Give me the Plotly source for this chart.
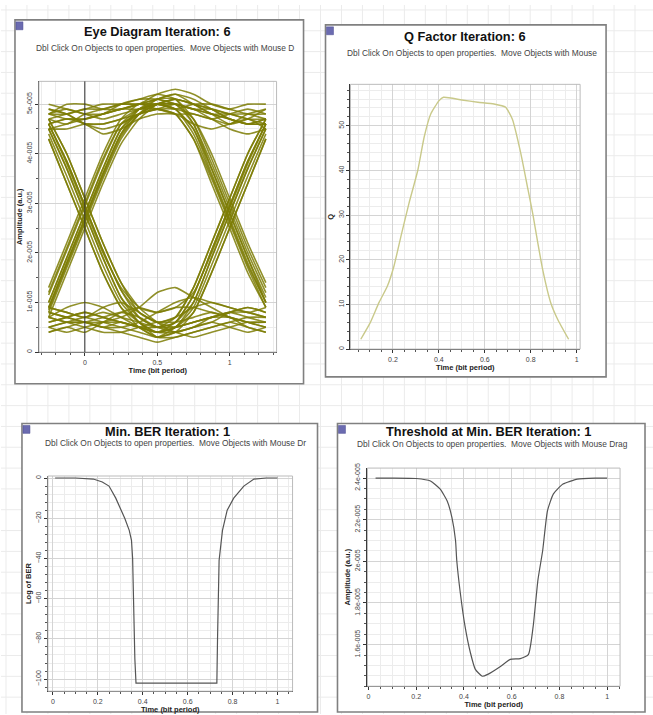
import plotly.graph_objects as go

W, H = 653, 715

# ---------------- data ----------------
# Eye diagram (amplitude in units of 1e-5 a.u.)
eye_x = [-0.25, -0.125, 0, 0.125, 0.25, 0.375, 0.5, 0.625, 0.75, 0.875, 1.0, 1.125, 1.25]
eye_traces = [
    [4.7, 4.8, 4.9, 4.9, 5.0, 5.0, 5.1, 5.0, 4.9, 4.8, 4.8, 4.7, 4.7],
    [4.5, 4.6, 4.7, 4.8, 4.9, 5.0, 5.1, 5.2, 5.1, 4.9, 4.7, 4.6, 4.6],
    [4.9, 4.8, 4.6, 4.5, 4.6, 4.8, 4.9, 4.9, 4.8, 4.7, 4.6, 4.8, 4.9],
    [5.0, 4.9, 4.8, 4.7, 4.8, 4.9, 5.0, 4.9, 5.0, 5.0, 4.9, 4.8, 4.8],
    [4.6, 4.7, 4.6, 4.4, 4.5, 4.7, 4.8, 4.8, 4.6, 4.5, 4.6, 4.7, 4.5],
    [4.8, 5.0, 5.0, 4.9, 4.9, 5.0, 5.2, 5.3, 5.2, 5.0, 4.9, 5.0, 5.0],
    [4.8, 4.7, 4.7, 4.8, 4.9, 4.9, 5.0, 5.1, 5.0, 4.8, 4.7, 4.6, 4.7],
    [4.5, 4.5, 4.6, 4.6, 4.7, 4.8, 4.9, 5.0, 4.9, 4.7, 4.5, 4.4, 4.5],
    [4.8, 4.9, 4.8, 4.8, 4.9, 5.0, 5.0, 4.9, 4.5, 3.7, 2.8, 1.9, 1.1],
    [4.6, 4.7, 4.7, 4.8, 5.0, 5.1, 5.1, 5.0, 4.7, 4.0, 3.1, 2.2, 1.4],
    [4.9, 4.8, 4.6, 4.6, 4.7, 4.9, 4.9, 4.8, 4.3, 3.4, 2.5, 1.6, 0.9],
    [4.7, 4.6, 4.8, 4.9, 5.0, 5.1, 5.2, 5.1, 4.6, 3.8, 2.9, 2.0, 1.2],
    [4.8, 4.8, 4.9, 5.0, 5.0, 5.0, 5.0, 4.9, 4.4, 3.55, 2.65, 1.75, 1.0],
    [1.0, 1.9, 2.8, 3.7, 4.5, 4.8, 5.0, 5.1, 5.0, 4.9, 4.8, 4.8, 4.7],
    [0.7, 1.6, 2.5, 3.4, 4.2, 4.7, 5.0, 5.1, 5.0, 4.9, 4.7, 4.6, 4.7],
    [1.3, 2.2, 3.1, 4.0, 4.7, 5.0, 4.9, 4.8, 4.8, 4.7, 4.8, 4.9, 4.8],
    [0.9, 1.8, 2.7, 3.6, 4.4, 4.9, 5.1, 5.2, 5.0, 4.8, 4.6, 4.7, 4.9],
    [1.15, 2.05, 2.95, 3.85, 4.6, 4.9, 5.0, 5.0, 4.9, 4.8, 4.7, 4.6, 4.6],
    [0.85, 1.75, 2.65, 3.55, 4.35, 4.8, 5.0, 5.0, 4.9, 4.9, 4.8, 4.7, 4.6],
    [1.0, 1.9, 2.8, 3.7, 4.5, 4.9, 5.0, 5.0, 4.6, 3.7, 2.8, 1.9, 1.0],
    [1.2, 2.1, 3.0, 3.9, 4.6, 4.8, 4.9, 4.8, 4.3, 3.5, 2.6, 1.7, 0.9],
    [0.8, 1.7, 2.6, 3.5, 4.3, 4.8, 5.1, 5.1, 4.7, 3.9, 3.0, 2.1, 1.3],
    [0.9, 1.8, 2.7, 3.6, 4.4, 4.8, 5.0, 4.9, 4.5, 3.6, 2.7, 1.8, 1.0],
    [4.5, 3.7, 2.8, 1.9, 1.1, 0.6, 0.4, 0.5, 1.0, 1.9, 2.8, 3.7, 4.5],
    [4.7, 4.0, 3.1, 2.2, 1.4, 0.8, 0.6, 0.7, 1.3, 2.2, 3.1, 4.0, 4.7],
    [4.3, 3.4, 2.5, 1.6, 0.9, 0.5, 0.3, 0.4, 0.8, 1.6, 2.5, 3.4, 4.3],
    [4.6, 3.85, 2.95, 2.05, 1.25, 0.7, 0.5, 0.6, 1.15, 2.05, 2.95, 3.85, 4.6],
    [4.5, 3.7, 2.8, 1.9, 1.1, 0.7, 0.5, 0.5, 0.6, 0.7, 0.7, 0.6, 0.6],
    [4.7, 4.0, 3.1, 2.2, 1.4, 0.9, 0.6, 0.4, 0.5, 0.6, 0.8, 0.9, 0.8],
    [4.3, 3.4, 2.5, 1.6, 0.9, 0.6, 0.3, 0.3, 0.4, 0.5, 0.6, 0.7, 0.7],
    [4.6, 3.8, 2.9, 2.0, 1.3, 0.9, 0.8, 0.9, 0.9, 0.8, 0.7, 0.5, 0.4],
    [4.6, 3.85, 2.95, 2.05, 1.25, 0.8, 0.6, 0.5, 0.6, 0.7, 0.8, 0.8, 0.7],
    [4.4, 3.55, 2.65, 1.75, 1.0, 0.6, 0.4, 0.4, 0.5, 0.6, 0.5, 0.4, 0.5],
    [0.7, 0.6, 0.6, 0.5, 0.6, 0.5, 0.4, 0.6, 1.0, 1.9, 2.8, 3.7, 4.5],
    [0.9, 0.8, 0.7, 0.8, 0.7, 0.6, 0.5, 0.7, 1.3, 2.2, 3.1, 4.0, 4.7],
    [0.5, 0.6, 0.7, 0.6, 0.5, 0.4, 0.3, 0.5, 0.8, 1.6, 2.5, 3.4, 4.3],
    [0.4, 0.5, 0.4, 0.6, 0.8, 0.9, 0.8, 0.9, 1.2, 2.0, 2.9, 3.8, 4.6],
    [0.6, 0.7, 0.8, 0.7, 0.6, 0.5, 0.5, 0.6, 1.15, 2.05, 2.95, 3.85, 4.6],
    [0.8, 0.7, 0.6, 0.6, 0.6, 0.5, 0.4, 0.5, 0.9, 1.75, 2.65, 3.55, 4.4],
    [0.6, 0.7, 0.8, 0.7, 0.6, 0.5, 0.4, 0.5, 0.6, 0.7, 0.8, 0.7, 0.6],
    [0.9, 0.8, 0.7, 0.9, 1.0, 0.8, 0.6, 0.7, 0.9, 1.0, 0.9, 0.8, 0.9],
    [0.4, 0.5, 0.6, 0.5, 0.4, 0.3, 0.2, 0.3, 0.4, 0.5, 0.6, 0.5, 0.4],
    [0.7, 0.9, 1.0, 0.9, 0.7, 0.5, 0.3, 0.4, 0.5, 0.7, 0.8, 0.9, 0.8],
    [0.5, 0.4, 0.5, 0.6, 0.7, 0.9, 1.2, 1.3, 1.1, 0.9, 0.7, 0.6, 0.5],
    [0.8, 0.7, 0.6, 0.5, 0.5, 0.6, 0.8, 1.0, 1.1, 1.0, 0.9, 0.8, 0.7],
    [0.5, 0.6, 0.6, 0.7, 0.8, 0.7, 0.5, 0.4, 0.3, 0.4, 0.5, 0.6, 0.6],
    [0.7, 0.6, 0.5, 0.4, 0.4, 0.5, 0.6, 0.6, 0.7, 0.8, 0.7, 0.6, 0.5],
]
eye_unit = 1e-5
eye_marker_x = [0]
eye_ytick_vals = [0, 1, 2, 3, 4, 5]
eye_ytick_text = ["0", "1e-005", "2e-005", "3e-005", "4e-005", "5e-005"]

# Q factor
q_x = [0.06, 0.10, 0.139, 0.175, 0.204, 0.235, 0.27, 0.308, 0.336, 0.365, 0.40, 0.42,
       0.50, 0.57, 0.64, 0.69, 0.72, 0.757, 0.787, 0.81, 0.83, 0.852, 0.887, 0.917, 0.965]
q_y = [2.2, 5.8, 10.4, 14.0, 18.5, 25.3, 32.7, 40.0, 47.5, 52.7, 55.6, 56.4,
       55.8, 55.3, 54.9, 54.2, 51.5, 43.8, 36.0, 30.0, 24.0, 17.8, 10.4, 6.7, 2.2]

# Min BER (log10)
ber_x = [0.01, 0.1, 0.18, 0.22, 0.25, 0.28, 0.30, 0.32, 0.34, 0.35, 0.355, 0.36, 0.365, 0.37,
         0.5, 0.6, 0.73, 0.733, 0.736, 0.74, 0.755, 0.776, 0.805, 0.85, 0.895, 0.95, 1.0]
ber_y = [0, 0, -0.5, -2, -4, -10, -15, -20, -26, -31, -40, -70, -90, -102,
         -102, -102, -102, -80, -64, -41, -26, -16, -10, -4, -0.5, 0, 0]

# Threshold at min BER (units of 1e-5 a.u.)
thr_x = [0.03, 0.1, 0.2, 0.26, 0.30, 0.33, 0.35, 0.365, 0.37, 0.385, 0.405, 0.427, 0.448, 0.477,
         0.50, 0.553, 0.594, 0.636, 0.67, 0.69, 0.71, 0.73, 0.75, 0.775, 0.815, 0.875, 0.95, 1.0]
thr_y = [2.4, 2.4, 2.398, 2.386, 2.348, 2.29, 2.21, 2.10, 2.005, 1.848, 1.686, 1.562, 1.481, 1.448,
         1.457, 1.495, 1.529, 1.533, 1.552, 1.686, 1.91, 2.052, 2.243, 2.324, 2.371, 2.395, 2.4, 2.4]
thr_unit = 1e-5
thr_ytick_vals = [1.6, 1.8, 2.0, 2.2, 2.4]
thr_ytick_text = ["1.6e-005", "1.8e-005", "2e-005", "2.2e-005", "2.4e-005"]

titles = ["Eye Diagram Iteration: 6", "Q Factor Iteration: 6",
          "Min. BER Iteration: 1", "Threshold at Min. BER Iteration: 1"]
subtitle = "Dbl Click On Objects to open properties.  Move Objects with Mouse Drag"

# ---------------- helpers ----------------
FONT = "Liberation Sans, Arial, sans-serif"


def px_x(p):
    return p / W


def px_y(p):
    return 1 - p / H


fig = go.Figure()

OLIVE = "rgba(125,125,5,0.85)"
for tr in eye_traces:
    fig.add_trace(go.Scatter(x=eye_x, y=[v * eye_unit for v in tr], mode="lines",
                             line=dict(color=OLIVE, width=1.6, shape="spline", smoothing=0.55),
                             xaxis="x", yaxis="y", hoverinfo="skip"))

fig.add_trace(go.Scatter(x=q_x, y=q_y, mode="lines",
                         line=dict(color="#c9c98a", width=1.4, shape="spline", smoothing=0.5),
                         xaxis="x2", yaxis="y2"))
fig.add_trace(go.Scatter(x=ber_x, y=ber_y, mode="lines",
                         line=dict(color="#555555", width=1.2),
                         xaxis="x3", yaxis="y3"))
fig.add_trace(go.Scatter(x=thr_x, y=[v * thr_unit for v in thr_y], mode="lines",
                         line=dict(color="#555555", width=1.2, shape="spline", smoothing=0.5),
                         xaxis="x4", yaxis="y4"))


def axis(domain, rng, dtick=None, minor_dtick=None, anchor=None, is_y=False, **kw):
    d = dict(domain=domain, range=rng, anchor=anchor, showline=True, linecolor="#333333",
             linewidth=1.3, ticks="outside", ticklen=3, tickcolor="#333333",
             showgrid=True, gridcolor="#d4d4d4", gridwidth=1, zeroline=False,
             tickfont=dict(family=FONT, size=7, color="#444444"),
             minor=dict(ticks="outside", ticklen=2, tickcolor="#555555",
                        showgrid=True, gridcolor="#ececec", gridwidth=1))
    if dtick is not None:
        d["dtick"] = dtick
    if minor_dtick is not None:
        d["minor"]["dtick"] = minor_dtick
    if is_y:
        d["tickangle"] = -90
    d.update(kw)
    return d


def xtitle(text):
    return dict(text=text, font=dict(family=FONT, size=7.5, color="#222222", weight="bold"), standoff=2)


# Plot area pixel boxes: (left, right, top, bottom)
boxes = [(38, 276, 77, 350), (350, 580, 80, 347), (47, 292, 475, 692), (367, 620, 467, 687)]
dom = [([px_x(l), px_x(r)], [px_y(b), px_y(t)]) for l, r, t, b in boxes]

fig.update_layout(
    xaxis=axis(dom[0][0], [-0.317, 1.324], 0.5, 0.1, "y", tickvals=[0, 0.5, 1], ticktext=["0", "0.5", "1"],
               title=xtitle("Time (bit period)")),
    yaxis=axis(dom[0][1], [0, 5.46e-5], None, 0.5e-5, "x", True,
               tickvals=[v * eye_unit for v in eye_ytick_vals], ticktext=eye_ytick_text,
               title=xtitle("Amplitude (a.u.)")),
    xaxis2=axis(dom[1][0], [0.015, 1.015], 0.2, 0.05, "y2", title=xtitle("Time (bit period)")),
    yaxis2=axis(dom[1][1], [0, 59.3], 10, 2, "x2", True, title=xtitle("Q")),
    xaxis3=axis(dom[2][0], [-0.022, 1.067], 0.2, 0.05, "y3", title=xtitle("Time (bit period)")),
    yaxis3=axis(dom[2][1], [-106, 1], 20, 4, "x3", True, title=xtitle("Log of BER")),
    xaxis4=axis(dom[3][0], [-0.004, 1.054], 0.2, 0.05, "y4", title=xtitle("Time (bit period)")),
    yaxis4=axis(dom[3][1], [1.4e-5, 2.448e-5], None, 0.05e-5, "x4", True,
                tickvals=[v * thr_unit for v in thr_ytick_vals], ticktext=thr_ytick_text,
                title=xtitle("Amplitude (a.u.)")),
    width=W, height=H, autosize=False,
    margin=dict(l=0, r=0, t=0, b=0),
    paper_bgcolor="white", plot_bgcolor="white",
    showlegend=False,
)

shapes = []
# faint canvas grid behind the panels
for gx in range(5, W, 21):
    shapes.append(dict(type="line", xref="paper", yref="paper", x0=px_x(gx), x1=px_x(gx), y0=0, y1=1,
                       line=dict(color="#ebebeb", width=1), layer="below"))
for gy in range(5, H, 21):
    shapes.append(dict(type="line", xref="paper", yref="paper", x0=0, x1=1, y0=px_y(gy), y1=px_y(gy),
                       line=dict(color="#ebebeb", width=1), layer="below"))

# panel frames: (left, right, top, bottom)
panels = [(14, 303, 15, 382), (325, 606, 20, 375), (21, 317, 422, 713), (337, 645, 422, 713)]
for l, r, t, b in panels:
    shapes.append(dict(type="rect", xref="paper", yref="paper", x0=px_x(l), x1=px_x(r),
                       y0=px_y(b), y1=px_y(t), fillcolor="white",
                       line=dict(color="#808080", width=1.6), layer="below"))
    shapes.append(dict(type="rect", xref="paper", yref="paper", x0=px_x(l + 1), x1=px_x(l + 8),
                       y0=px_y(t + 10), y1=px_y(t + 2), fillcolor="#6b6bb0",
                       line=dict(color="#4a4a90", width=0.5)))

# plot-area frames
for ax in ["", "2", "3", "4"]:
    shapes.append(dict(type="rect", xref=f"x{ax} domain", yref=f"y{ax} domain", x0=0, x1=1, y0=0, y1=1,
                       line=dict(color="#bbbbbb", width=1)))

# eye marker line
for mx in eye_marker_x:
    shapes.append(dict(type="line", xref="x", yref="y domain", x0=mx, x1=mx, y0=0, y1=1,
                       line=dict(color="#333333", width=1)))

fig.update_layout(shapes=shapes)

# titles and subtitles
title_pos = [(157, 27), (465, 32), (167, 430), (488, 430)]
sub_specs = [(33, 43, subtitle[:67]), (345, 48, subtitle[:65]), (42, 442, subtitle[:68]), (355, 443, subtitle)]
ann = []
for (tx, ty), t in zip(title_pos, titles):
    ann.append(dict(text=f"<b>{t}</b>", x=px_x(tx), y=px_y(ty), xref="paper", yref="paper",
                    showarrow=False, xanchor="center", yanchor="middle",
                    font=dict(family=FONT, size=12.8, color="#111111")))
for sx, sy, s in sub_specs:
    ann.append(dict(text=s, x=px_x(sx), y=px_y(sy), xref="paper", yref="paper",
                    showarrow=False, xanchor="left", yanchor="middle",
                    font=dict(family=FONT, size=8.4, color="#444444")))
fig.update_layout(annotations=ann)

fig.write_html("out.html")
